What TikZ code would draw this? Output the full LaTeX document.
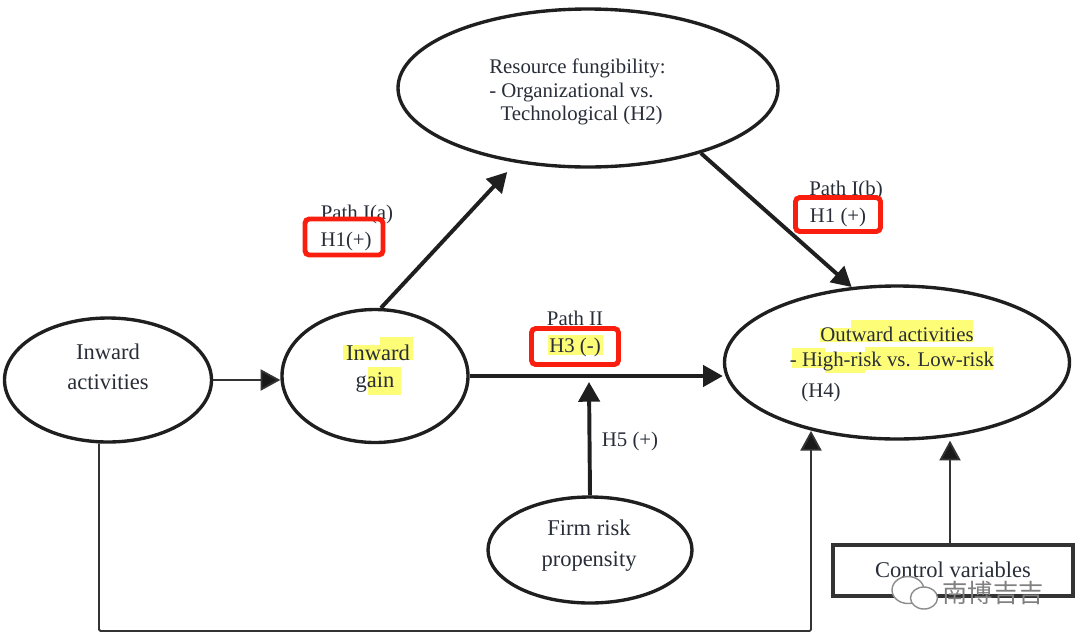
\documentclass[tikz,border=0pt]{standalone}
\usepackage{fontspec}
\setmainfont{Liberation Serif}
\newfontfamily\cjkfont{Noto Sans CJK SC}
\usetikzlibrary{arrows.meta,shapes.geometric}
\definecolor{inktext}{RGB}{40,45,55}
\definecolor{markyellow}{RGB}{253,253,120}
\definecolor{boxred}{RGB}{250,30,15}
\newcommand{\nudgetext}[2]{\raisebox{#1}[\height][\depth]{#2}}
\tikzset{
  bubble/.style={draw=black!88,line width=2.4pt,ellipse,inner sep=0pt},
  lbl/.style={text=inktext,inner sep=0pt,font=\fontsize{14.8}{17}\selectfont},
  biglbl/.style={text=inktext,inner sep=0pt,align=center,font=\fontsize{16}{21.5}\selectfont},
  redbox/.style={draw=boxred,line width=3.5pt,rounded corners=3pt,inner sep=0pt,text=inktext,font=\fontsize{14.8}{17}\selectfont},
  boldarrow/.style={draw=black!88,line width=2.8pt,-{Triangle[length=14pt,width=15pt]}},
  thinarrow/.style={draw=black!80,line width=1.3pt,-{Triangle[length=14pt,width=15pt,fill=black!90]}},
  hlight/.style={fill=markyellow},
  wechat/.style={draw=black!45,fill=white,ellipse,line width=1pt,inner sep=0pt}
}
\begin{document}
\begin{tikzpicture}[x=0.025cm,y=-0.025cm]
    \useasboundingbox (0,0) rectangle (1080,640);

    \foreach \xa/\ya/\xb/\yb in {343/345/380/360, 380/337/413/360, 368/367/401/395,
        548/335/603/355, 820/328/851/342, 851/320/973/342,
        792/348/825/368, 825/352/865/373, 865/347/993/370}
        \fill[hlight] (\xa,\ya) rectangle (\xb,\yb);

    \node[bubble,minimum width=380*0.025cm,minimum height=158*0.025cm] (fung) at (588,88) {};
    \node[bubble,minimum width=207*0.025cm,minimum height=124*0.025cm] (act) at (108,380) {};
    \node[bubble,minimum width=186*0.025cm,minimum height=133*0.025cm] (gain) at (375,376) {};
    \node[bubble,minimum width=345*0.025cm,minimum height=153*0.025cm] (out) at (897,362.5) {};
    \node[bubble,minimum width=204*0.025cm,minimum height=106*0.025cm] (risk) at (590,550) {};
    \node[draw=black!80,line width=2.6pt,minimum width=240*0.025cm,minimum height=51*0.025cm,inner sep=0pt,text=inktext,font=\fontsize{16}{18}\selectfont] (ctrl) at (953,570.5) {\nudgetext{0.8pt}{Control variables}};

    \node[biglbl] (acttext) at (108,367) {Inward\\activities};
    \node[biglbl] (risktext) at (589,545.5) {Firm risk\\propensity};
    \node[lbl,anchor=west,align=left] (fungtext) at (489,92) {Resource fungibility:\\- Organizational vs.\\\hspace{8pt}Technological (H2)};
    \node[biglbl] (gaina) at (378,353) {Inward};
    \node[biglbl] (gainb) at (375,382) {gain};
    \node[lbl] (outa) at (897,334) {Outward activities};
    \node[lbl] (outb) at (892,362) {- High-risk vs. Low-risk};
    \node[lbl] (outc) at (821,392) {(H4)};

    \node[lbl] (patha) at (357,214) {Path I(a)};
    \node[redbox,minimum width=78*0.025cm,minimum height=36*0.025cm] (boxa) at (344,237) {\hspace{3pt}\nudgetext{-3pt}{H1(+)}};
    \node[lbl] (pathb) at (846,190) {Path I(b)};
    \node[redbox,minimum width=85*0.025cm,minimum height=34*0.025cm] (boxb) at (838,214.5) {\nudgetext{-2pt}{H1 (+)}};
    \node[lbl] (pathc) at (575,318) {Path II};
    \node[redbox,minimum width=87*0.025cm,minimum height=36*0.025cm] (boxc) at (575,346.5) {\nudgetext{-0.7pt}{H3 (-)}};
    \node[lbl] (hfive) at (630,441) {H5 (+)};

    \coordinate (risktip) at (589,382);
    \coordinate (loop) at (811,631);

    \draw[thinarrow] (act.east) -- (gain.west |- act.east);
    \draw[boldarrow,shorten >=9pt] (gain.85) -- (fung.226.6);
    \draw[boldarrow] (fung.-30) -- (out.121);
    \draw[boldarrow] (gain.east) -- (gain.east -| out.west);
    \draw[boldarrow] (risk.north) -- (risktip);
    \draw[thinarrow] ([xshift=-0.075cm]ctrl.north) -- ([xshift=-0.075cm]ctrl.north |- out.south);
    \draw[thinarrow,rounded corners=1pt] (act.262) -- (act.262 |- loop) -- (loop) -- (out.219 -| loop);

    \node[wechat,minimum width=32*0.025cm,minimum height=27*0.025cm] (chata) at (908,590) {};
    \node[wechat,minimum width=27*0.025cm,minimum height=22*0.025cm] (chatb) at (924,598) {};
    \node[text=black!50,inner sep=0pt,font=\cjkfont\fontsize{18}{20}\selectfont] (mark) at (993,593) {南博吉吉};
\end{tikzpicture}
\end{document}
